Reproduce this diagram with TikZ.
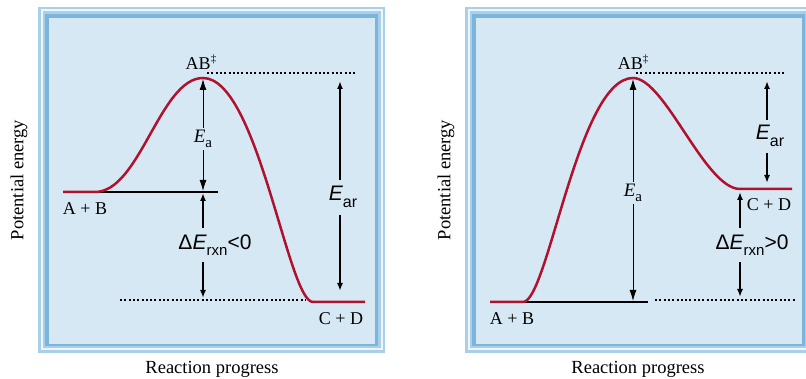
\documentclass[tikz,border=0pt]{standalone}
\usepackage{fontspec}
\setmainfont{Liberation Serif}
\setsansfont{Liberation Sans}
\usetikzlibrary{arrows.meta}
\definecolor{bgfill}{HTML}{D7E8F5}
\definecolor{rimlight}{HTML}{A8D0EA}
\definecolor{rimwhite}{HTML}{EEF6FB}
\definecolor{rimdark}{HTML}{7CB5DC}
\definecolor{curvered}{HTML}{B0122E}
\definecolor{baseline}{HTML}{4A4A4A}
\newcommand\mysub[2]{\raisebox{-0.3em}{\fontsize{#1}{#1}\selectfont #2}}
\newcommand\pframe[2]{%
  \fill[rimlight] (#1,#2) rectangle ++(347,346);
  \fill[rimwhite] (#1+2.5,#2+2.5) rectangle ++(342,341);
  \fill[rimlight] (#1+4.5,#2+4.5) rectangle ++(338,337);
  \fill[rimdark] (#1+7,#2+7) rectangle ++(333,332);
  \fill[bgfill] (#1+11,#2+11) rectangle ++(326,326);
}
\tikzset{
  lbl/.style={font=\fontsize{18}{18}\selectfont, inner sep=0pt},
  axis/.style={font=\fontsize{18.5}{18.5}\selectfont, inner sep=0pt},
  big/.style={font=\sffamily\fontsize{21}{21}\selectfont, inner sep=1pt, fill=bgfill},
  ealbl/.style={font=\fontsize{19}{19}\selectfont, inner sep=1.5pt, fill=bgfill},
  curve/.style={curvered, line width=2.5pt},
  base/.style={baseline, line width=1.1pt},
  dots/.style={line width=2.2pt, dash pattern=on 2pt off 2.3pt},
  thinarr/.style={line width=0.9pt, -{Latex[length=11pt,width=7pt]}},
  thickarr/.style={line width=1.8pt, -{Latex[length=8pt,width=6pt]}},
}
\begin{document}
\begin{tikzpicture}[x=1pt,y=-1pt]
\useasboundingbox (0,0) rectangle (806,379);
\clip (0,0) rectangle (806,379);
\fill[white] (0,0) rectangle (806,379);
\pframe{38}{7}
\pframe{465}{7}

% ---------------- left panel ----------------
\node[axis, rotate=90] (pe1) at (19,180) {Potential energy};
\node[axis] (rp1) at (212,369) {Reaction progress};
\coordinate (L0) at (63,192);
\coordinate (L1) at (95,192);
\coordinate (Lpk) at (203,78);
\coordinate (L2) at (313,302);
\coordinate (L3) at (365,302);
\draw[base] (L1) -- (218,192);
\draw[curve] (L0) -- (L1) .. controls (140,192) and (160,78) .. (Lpk)
  .. controls (258,78) and (288,302) .. (L2) -- (L3);
\draw[dots] (207,73) -- (357,73);
\draw[dots] (120,300) -- (305,300);
\node[lbl] (ab1) at (201,62) {AB\raisebox{0.4em}{\fontsize{11}{11}\selectfont ‡}};
\node[lbl] (r1) at (85,209) {A + B};
\node[lbl] (p1) at (341,319) {C + D};
% Ea
\node[ealbl] (ea1) at (203,139) {\textit{E}\mysub{15}{a}};
\coordinate (ea1t) at (203,79);
\coordinate (ea1b) at (203,191);
\draw[thinarr] (ea1) -- (ea1t);
\draw[thinarr] (ea1) -- (ea1b);
% dE
\node[big] (de1) at (215,245) {Δ\textit{E}\mysub{15}{rxn}<0};
\coordinate (de1t) at (203,193);
\coordinate (de1b) at (203,298);
\coordinate (de1u) at (203,228);
\coordinate (de1d) at (203,262);
\draw[thickarr] (de1u) -- (de1t);
\draw[thickarr] (de1d) -- (de1b);
% Ear
\node[big] (ear1) at (343,197) {\textit{E}\mysub{16}{ar}};
\coordinate (ear1t) at (340,81);
\coordinate (ear1b) at (340,291);
\coordinate (ear1u) at (340,180);
\coordinate (ear1d) at (340,215);
\draw[thickarr] (ear1u) -- (ear1t);
\draw[thickarr] (ear1d) -- (ear1b);

% ---------------- right panel ----------------
\node[axis, rotate=90] (pe2) at (446,180) {Potential energy};
\node[axis] (rp2) at (638,369) {Reaction progress};
\coordinate (R0) at (490,302);
\coordinate (R1) at (523,302);
\coordinate (Rpk) at (633,78);
\coordinate (R2) at (740,189);
\coordinate (R3) at (792,189);
\draw[base] (R1) -- (648,302);
\draw[curve] (R0) -- (R1) .. controls (548,302) and (578,78) .. (Rpk)
  .. controls (665,78) and (705,189) .. (R2) -- (R3);
\draw[dots] (636,73) -- (785,73);
\draw[dots] (655,300) -- (795,300);
\node[lbl] (ab2) at (633,62) {AB\raisebox{0.4em}{\fontsize{11}{11}\selectfont ‡}};
\node[lbl] (r2) at (512,319) {A + B};
\node[lbl] (p2) at (769,205) {C + D};
% Ea
\node[ealbl] (ea2) at (633,193) {\textit{E}\mysub{15}{a}};
\coordinate (ea2t) at (633,79);
\coordinate (ea2b) at (633,301);
\draw[thinarr] (ea2) -- (ea2t);
\draw[thinarr] (ea2) -- (ea2b);
% Ear
\node[big] (ear2) at (770,136) {\textit{E}\mysub{16}{ar}};
\coordinate (ear2t) at (767,81);
\coordinate (ear2b) at (767,183);
\coordinate (ear2u) at (767,120);
\coordinate (ear2d) at (767,153);
\draw[thickarr] (ear2u) -- (ear2t);
\draw[thickarr] (ear2d) -- (ear2b);
% dE
\node[big] (de2) at (752,245) {Δ\textit{E}\mysub{15}{rxn}>0};
\coordinate (de2t) at (740,192);
\coordinate (de2b) at (740,297);
\coordinate (de2u) at (740,228);
\coordinate (de2d) at (740,262);
\draw[thickarr] (de2u) -- (de2t);
\draw[thickarr] (de2d) -- (de2b);
\end{tikzpicture}
\end{document}
